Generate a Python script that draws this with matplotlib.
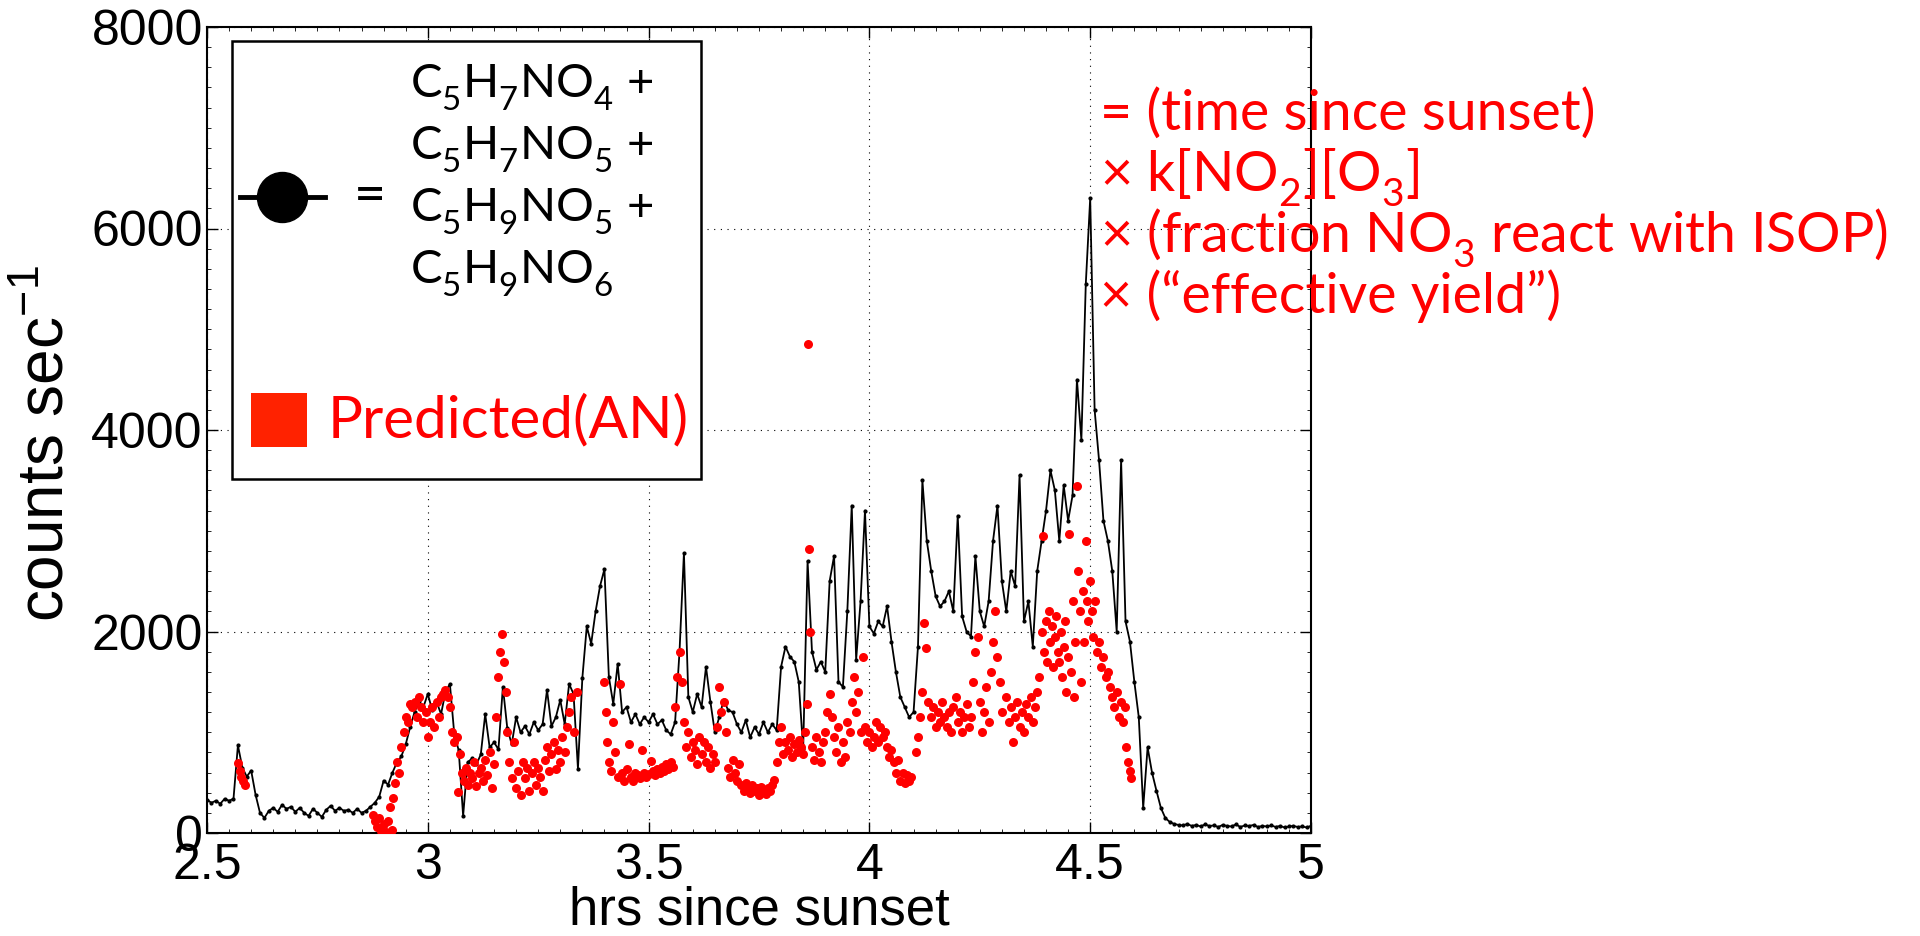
import numpy as np
import matplotlib
matplotlib.use("Agg")
import matplotlib.pyplot as plt
import matplotlib._mathtext as mathtext_internal
from matplotlib.patches import Rectangle
from matplotlib.lines import Line2D

plt.rcParams['font.family'] = ['Liberation Sans', 'DejaVu Sans']
plt.rcParams['mathtext.fontset'] = 'custom'
plt.rcParams['mathtext.rm'] = 'Lato'
plt.rcParams['mathtext.it'] = 'Lato:italic'
plt.rcParams['mathtext.bf'] = 'Lato:bold'
# drop chemical subscripts a bit lower than the mathtext default
mathtext_internal.FontConstantsBase.sub1 = 0.55

# measured sum of the four nitrates, one value every 0.01 h from 2.50 h
t_start, t_step = 2.50, 0.01
measured = [
    330, 300, 320, 290, 340, 320, 340, 870, 650, 560,
    620, 380, 200, 150, 220, 250, 210, 280, 240, 260,
    210, 250, 200, 170, 240, 200, 160, 230, 270, 220,
    250, 220, 230, 200, 240, 200, 220, 260, 300, 360,
    520, 480, 600, 700, 760, 880, 1050, 1200, 1310, 1250,
    1380, 1220, 1300, 1180, 1400, 1480, 980, 820, 170, 700,
    740, 680, 780, 1180, 850, 900, 830, 1450, 1040, 880,
    1150, 1000, 1060, 980, 1100, 1020, 1080, 1420, 1060, 1150,
    1320, 1080, 1480, 1380, 640, 1540, 2050, 1880, 2200, 2450,
    2620, 1550, 1280, 1680, 1200, 1250, 1100, 1180, 1080, 1150,
    1100, 1180, 1080, 1120, 1020, 980, 1100, 1800, 2780, 1350,
    1200, 1380, 1250, 1650, 1300, 1000, 1150, 1320, 1220, 1200,
    1080, 1000, 1120, 950, 1050, 980, 1100, 1000, 1080, 1020,
    1650, 1850, 1750, 1700, 1500, 830, 2700, 1800, 1620, 1700,
    1600, 2500, 2750, 1500, 1450, 2200, 3250, 1720, 2300, 3200,
    2050, 1980, 2100, 2050, 2250, 1900, 1600, 1350, 1250, 1150,
    1200, 1850, 3500, 2900, 2600, 2350, 2250, 2300, 2400, 2200,
    3150, 2150, 2000, 1950, 2750, 2200, 2050, 2300, 2900, 3250,
    2500, 2200, 2600, 2450, 3550, 2100, 2300, 1850, 2600, 2900,
    3200, 3600, 3400, 2900, 3450, 3100, 3350, 4500, 3900, 5450,
    6300, 4200, 3700, 3100, 2900, 2600, 2000, 3700, 2100, 1900,
    1500, 1150, 250, 850, 600, 420, 250, 150, 110, 90,
    80, 75, 90, 70, 80, 65, 85, 70, 75, 60,
    80, 70, 65, 85, 60, 75, 70, 80, 60, 70,
    65, 75, 60, 70, 55, 65, 70, 60, 65, 55,
    70,
]
meas_t = t_start + t_step * np.arange(len(measured))

# predicted alkyl nitrates (AN)
pred_t = [
    2.570, 2.574, 2.578, 2.582, 2.586,
    2.875, 2.880, 2.885, 2.890, 2.895, 2.900, 2.905, 2.910, 2.915, 2.918,
    2.922, 2.926, 2.930, 2.935, 2.940, 2.945, 2.950, 2.955, 2.960, 2.965,
    2.970, 2.975, 2.980, 2.985, 2.990, 2.995, 3.000, 3.005, 3.010, 3.015,
    3.020, 3.025, 3.030, 3.035, 3.040, 3.045, 3.050, 3.055, 3.060, 3.065,
    3.068, 3.072, 3.078, 3.082, 3.086, 3.090, 3.095, 3.100, 3.105, 3.110,
    3.115, 3.120, 3.125, 3.130, 3.135, 3.140, 3.145, 3.150, 3.155, 3.160,
    3.164, 3.168, 3.172, 3.176, 3.180, 3.185, 3.190, 3.195, 3.200, 3.205,
    3.210, 3.215, 3.220, 3.225, 3.230, 3.235, 3.240, 3.245, 3.250, 3.255,
    3.260, 3.265, 3.270, 3.275, 3.280, 3.285, 3.290, 3.295, 3.300, 3.305,
    3.310, 3.315, 3.320, 3.325, 3.330, 3.338,
    3.400, 3.403, 3.406, 3.410, 3.415, 3.420, 3.425, 3.430, 3.435, 3.440,
    3.445, 3.450, 3.455, 3.460, 3.465, 3.470, 3.475, 3.480, 3.485, 3.490,
    3.495, 3.500, 3.505, 3.510, 3.515, 3.520, 3.525, 3.530, 3.535, 3.540,
    3.545, 3.550, 3.555, 3.560, 3.565, 3.570, 3.575, 3.580, 3.585, 3.590,
    3.595, 3.600, 3.605, 3.610, 3.615, 3.620, 3.625, 3.630, 3.635, 3.640,
    3.645, 3.650, 3.655, 3.660, 3.665, 3.670, 3.675, 3.680, 3.685, 3.690,
    3.695, 3.700, 3.705, 3.710, 3.715, 3.720, 3.725, 3.730, 3.735, 3.740,
    3.745, 3.750, 3.755, 3.760, 3.765, 3.770, 3.775, 3.780, 3.785, 3.790,
    3.795, 3.800, 3.805, 3.810, 3.815, 3.820, 3.825, 3.830, 3.835, 3.840,
    3.845, 3.850, 3.855, 3.858, 3.861, 3.863, 3.866, 3.870, 3.875, 3.880,
    3.885, 3.890, 3.895, 3.900, 3.905, 3.910, 3.915, 3.920, 3.925, 3.930,
    3.935, 3.940, 3.945, 3.950, 3.955, 3.960, 3.965, 3.970, 3.975, 3.980,
    3.985, 3.990, 3.995, 4.000, 4.005, 4.010, 4.015, 4.020, 4.025, 4.030,
    4.035, 4.040, 4.045, 4.050, 4.055, 4.060, 4.065, 4.070, 4.075, 4.080,
    4.085, 4.090, 4.095, 4.105, 4.110, 4.115, 4.120, 4.124, 4.128, 4.132,
    4.140, 4.145, 4.150, 4.155, 4.160, 4.165, 4.170, 4.175, 4.180, 4.185,
    4.190, 4.195, 4.200, 4.205, 4.210, 4.215, 4.220, 4.225, 4.230, 4.235,
    4.240, 4.245, 4.250, 4.255, 4.260, 4.265, 4.270, 4.275, 4.280, 4.285,
    4.290, 4.295, 4.300, 4.310, 4.315, 4.320, 4.325, 4.330, 4.335, 4.340,
    4.345, 4.350, 4.355, 4.360, 4.365, 4.370, 4.375, 4.380, 4.385, 4.390,
    4.393, 4.396, 4.400, 4.403, 4.406, 4.410, 4.413, 4.416, 4.420, 4.423,
    4.426, 4.430, 4.433, 4.436, 4.440, 4.443, 4.446, 4.450, 4.453, 4.456,
    4.460, 4.463, 4.466, 4.470, 4.473, 4.476, 4.480, 4.483, 4.486, 4.490,
    4.493, 4.496, 4.500, 4.503, 4.506, 4.510, 4.515, 4.520, 4.525, 4.530,
    4.535, 4.540, 4.545, 4.550, 4.555, 4.560, 4.565, 4.570, 4.575, 4.578,
    4.580, 4.585, 4.590, 4.593,
]
pred_v = [
    690, 620, 560, 520, 480,
    180, 120, 60, 150, 20, 90, 10, 120, 260, 30,
    350, 500, 700, 600, 850, 1000, 1150, 1100, 1280, 1250,
    1300, 1150, 1350, 1250, 1100, 1200, 950, 1100, 1250, 1050,
    1300, 1150, 1350, 1380, 1420, 1350, 1250, 1000, 900, 950,
    410, 780, 600, 520, 650, 480, 600, 550, 700, 470,
    600, 650, 520, 720, 580, 800, 450, 680, 1150, 1550,
    1800, 1980, 1700, 1400, 1000, 700, 550, 900, 450, 620,
    380, 700, 550, 650, 420, 600, 700, 480, 650, 560,
    420, 720, 850, 620, 780, 900, 640, 820, 700, 950,
    800, 1050, 1200, 1350, 1000, 1400,
    1500, 1200, 900, 700, 620, 1100, 800, 560, 1480, 600,
    520, 640, 880, 560, 520, 600, 580, 550, 820, 600,
    560, 590, 710, 620, 580, 640, 600, 660, 620, 680,
    640, 700, 660, 1250, 1550, 1800, 1500, 1100, 850, 1000,
    750, 900, 820, 680, 950, 780, 900, 700, 850, 650,
    780, 700, 1050, 1450, 1200, 1300, 1000, 650, 560, 720,
    600, 520, 680, 480, 420, 500, 440, 400, 480, 420,
    450, 380, 460, 420, 390, 450, 420, 480, 530, 700,
    900, 1050, 780, 900, 820, 950, 750, 880, 800, 920,
    850, 780, 1000, 1280, 4850, 2820, 2000, 850, 720, 950,
    800, 700, 900, 1000, 1200, 1380, 1150, 950, 800, 1050,
    700, 900, 750, 1100, 1000, 1300, 1550, 1200, 1400, 1000,
    1750, 1050, 900, 1000, 850, 950, 1100, 900, 1050, 950,
    1000, 850, 750, 820, 700, 600, 720, 520, 600, 500,
    580, 520, 560, 800, 950, 1150, 1400, 2080, 1840, 1300,
    1150, 1250, 1050, 1200, 1100, 1300, 1150, 1050, 1200, 1000,
    1250, 1350, 1100, 1200, 1000, 1150, 1280, 1050, 1150, 1500,
    1800, 1950, 1300, 1000, 1200, 1450, 1100, 1600, 1900, 2200,
    1750, 1500, 1200, 1350, 1100, 1250, 900, 1150, 1300, 1050,
    1200, 1000, 1280, 1150, 1350, 1100, 1250, 1400, 1550, 2000,
    2950, 1800, 2100, 1700, 2200, 1900, 2050, 1650, 1950, 2150,
    1800, 1700, 2000, 1550, 1850, 2100, 1400, 1750, 2970, 1600,
    2300, 1350, 1900, 3440, 2600, 2200, 1500, 2400, 1900, 2900,
    2300, 2100, 2500, 2200, 1950, 2300, 1800, 1900, 1650, 1750,
    1550, 1600, 1450, 1350, 1250, 1400, 1150, 1300, 1100, 1250,
    850, 700, 620, 550,
]

x_ticks = [2.5, 3, 3.5, 4, 4.5, 5]
y_ticks = [0, 2000, 4000, 6000, 8000]

W, H = 1920, 936
fig = plt.figure(figsize=(W / 100, H / 100), dpi=100)
ax = fig.add_axes([207 / W, 1 - 833 / H, (1311 - 207) / W, (833 - 27) / H])

ax.plot(meas_t, measured, color='black', lw=1.3, marker='.', ms=4, zorder=3)
ax.plot(pred_t, pred_v, ls='none', marker='o', ms=6.5, color='#ff0000',
        markeredgewidth=0, zorder=4)

ax.set_xlim(2.5, 5)
ax.set_ylim(0, 8000)
ax.set_xticks(x_ticks)
ax.set_xticklabels(['2.5', '3', '3.5', '4', '4.5', '5'])
ax.set_yticks(y_ticks)
ax.set_xticks(np.arange(2.5, 5.001, 0.05), minor=True)
ax.set_yticks(np.arange(0, 8001, 200), minor=True)
ax.tick_params(which='both', direction='in', top=True, right=True)
ax.tick_params(which='major', length=8, width=1, labelsize=36)
ax.tick_params(axis='x', which='major', pad=7)
ax.tick_params(axis='y', which='major', pad=3)
ax.tick_params(which='minor', length=3, width=0.6)
ax.grid(True, which='major', ls=(0, (1, 5)), color='black', lw=0.8)
for s in ax.spines.values():
    s.set_linewidth(1.5)

ax.set_xlabel('hrs since sunset', fontsize=38, labelpad=-2)
ax.set_ylabel('counts sec$\\mathregular{^{-1}}$', fontsize=46)
ax.yaxis.set_label_coords(-0.118, 0.483)


def fx(px):
    return px / W


def fy(py):
    return 1 - py / H


# legend panel
fig.add_artist(Rectangle((fx(232), fy(479)), fx(701) - fx(232), fy(41) - fy(479),
                         transform=fig.transFigure, facecolor='white',
                         edgecolor='black', lw=1.8, zorder=5))
fig.add_artist(Line2D([fx(240), fx(325)], [fy(197), fy(197)], transform=fig.transFigure,
                      color='black', lw=3.5, zorder=6))
fig.add_artist(Line2D([fx(282)], [fy(197)], transform=fig.transFigure, marker='o',
                      ms=36, color='black', zorder=7))
fig.text(fx(370), fy(197), '=', fontsize=40, family='Lato', ha='center', va='center', zorder=7)
formula = ['$\\mathrm{C_5H_7NO_4}$ +', '$\\mathrm{C_5H_7NO_5}$ +',
           '$\\mathrm{C_5H_9NO_5}$ +', '$\\mathrm{C_5H_9NO_6}$']
for i, line in enumerate(formula):
    fig.text(fx(410), fy(98 + 62 * i), line, fontsize=34, family='Lato',
             ha='left', va='baseline', zorder=7)
fig.add_artist(Rectangle((fx(251), fy(447)), fx(307) - fx(251), fy(393) - fy(447),
                         transform=fig.transFigure, facecolor='#ff2200',
                         edgecolor='none', zorder=7))
fig.text(fx(328), fy(437), 'Predicted(AN)', fontsize=42, family='Lato', color='#ff0000',
         ha='left', va='baseline', zorder=7)

# how the prediction is built
recipe = ['= (time since sunset)',
          '× k[$\\mathrm{NO_2}$][$\\mathrm{O_3}$]',
          '× (fraction $\\mathrm{NO_3}$ react with ISOP)',
          '× (“effective yield”)']
for i, line in enumerate(recipe):
    fig.text(fx(1100), fy(130 + 61 * i), line, fontsize=40, family='Lato', color='#ff0000',
             ha='left', va='baseline', zorder=7)

fig.savefig('out.png', dpi=100)
